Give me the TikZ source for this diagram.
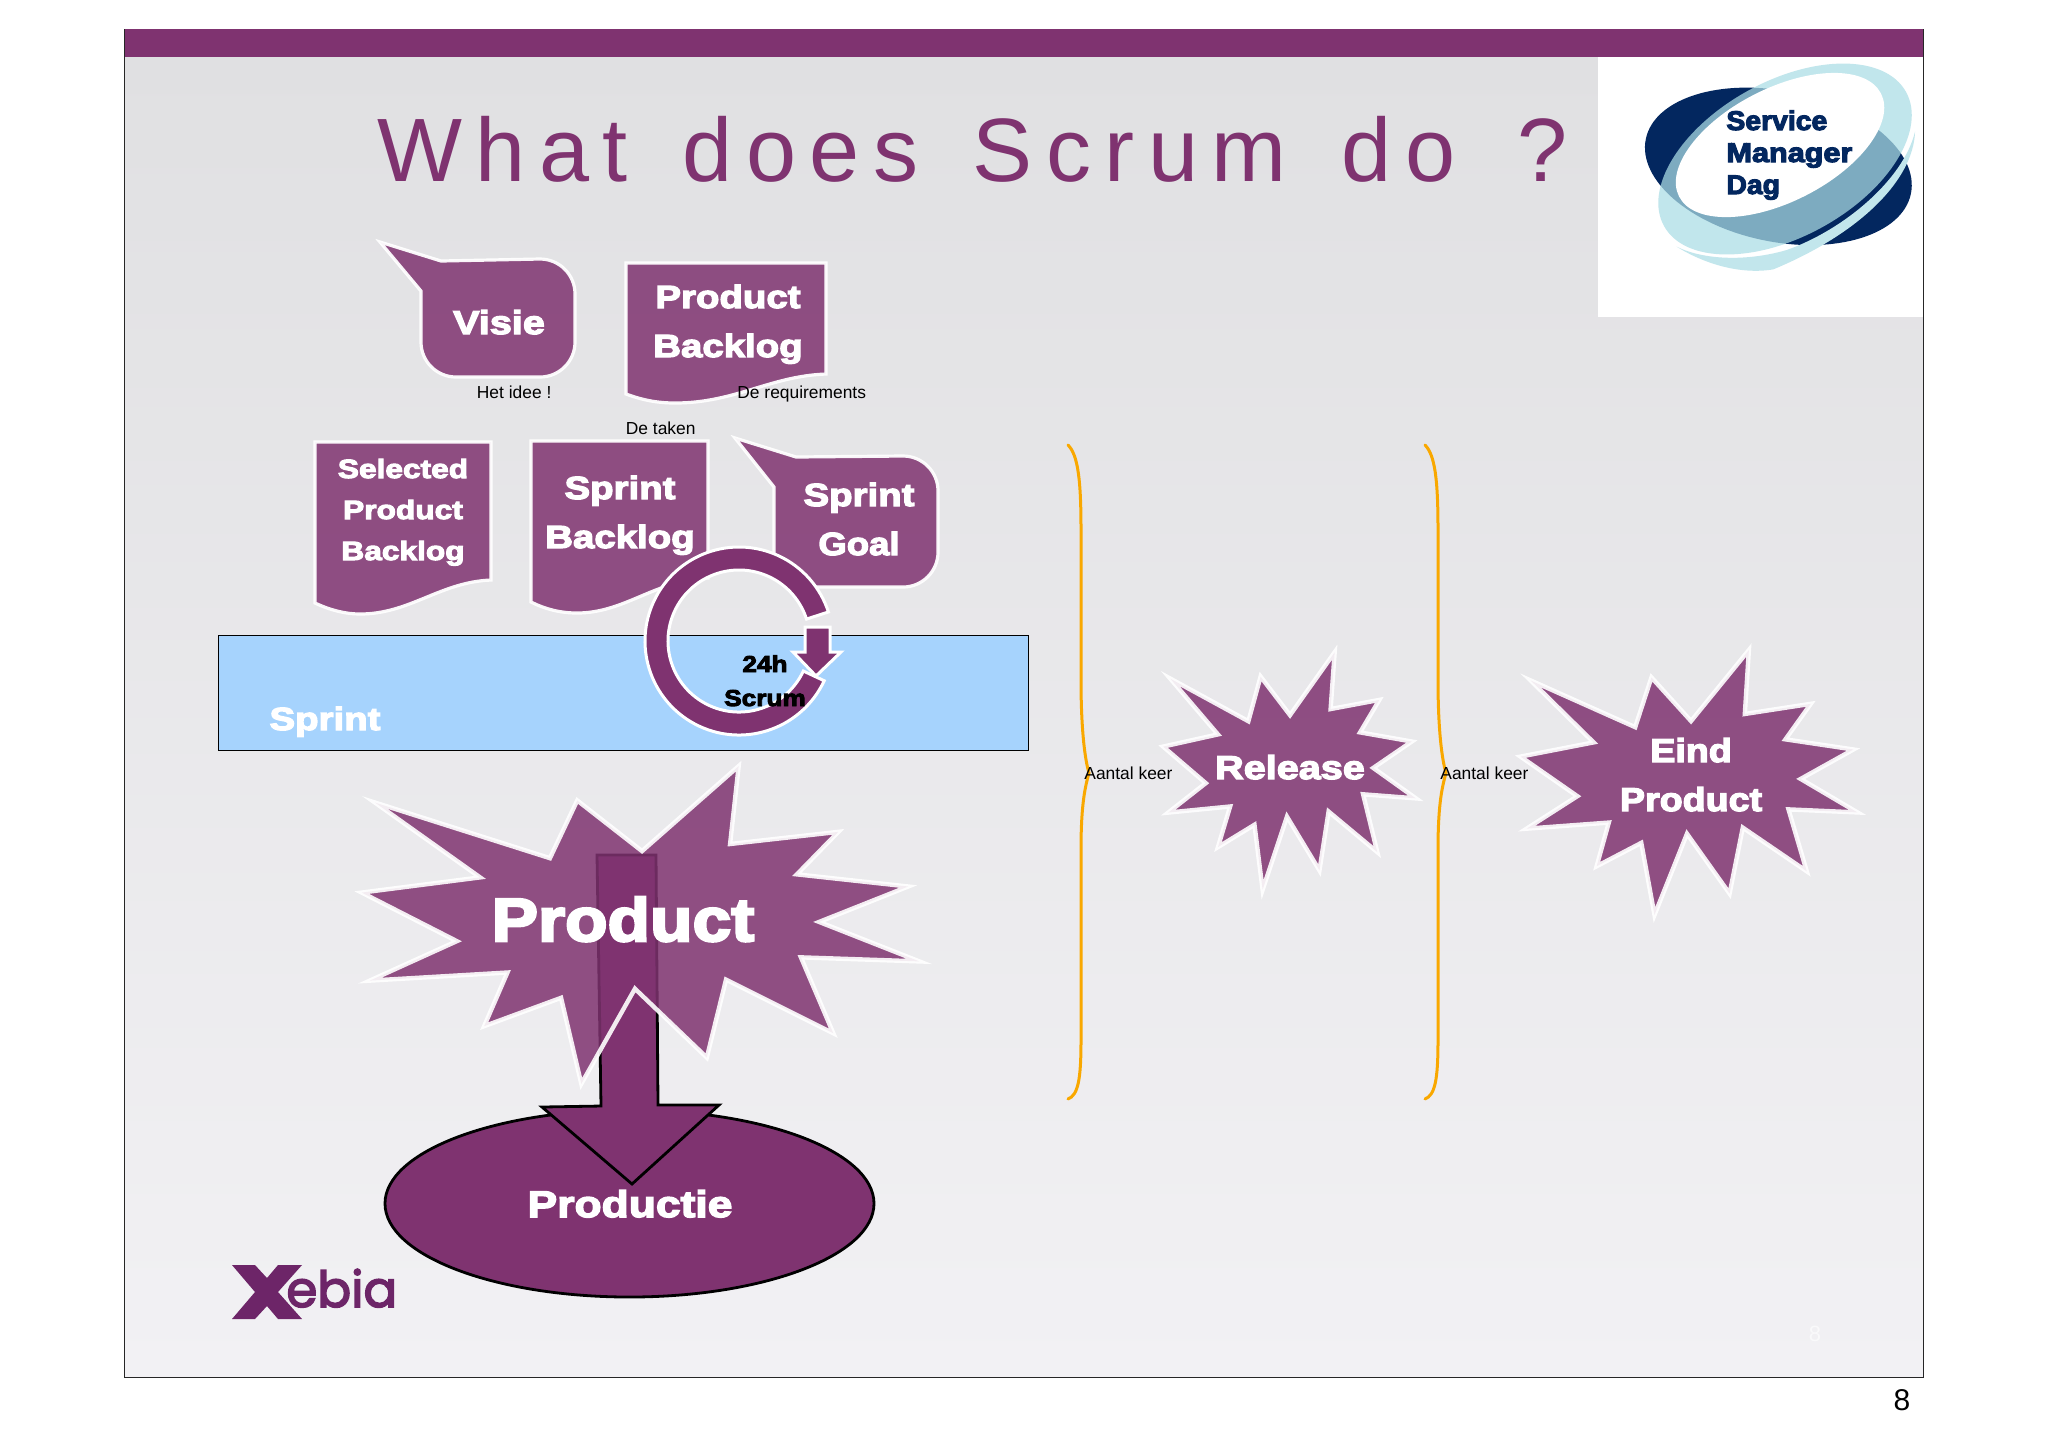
\documentclass[tikz,border=0pt]{standalone}
\usepackage{fontspec}
\usetikzlibrary{calc,shapes.geometric}
\setmainfont{Liberation Sans}
\newfontfamily\hv{Liberation Sans}[UprightFont={* Bold},FakeBold=4,FakeStretch=1.2]
\newfontfamily\hvb{Liberation Sans}[UprightFont={* Bold},FakeBold=4,FakeStretch=1.14]
\newfontfamily\hvl{Liberation Sans}[UprightFont={* Bold},FakeBold=4,FakeStretch=1.05]
\newfontfamily\tit{Liberation Sans}[LetterSpace=15,WordSpace=1.42]
\newfontfamily\xeb{Poppins}[FakeBold=3]
\definecolor{plum}{HTML}{7F3370}
\definecolor{xeb}{HTML}{6D2568}
\definecolor{navy}{HTML}{03275F}
\definecolor{ice}{HTML}{ABDDE5}
\definecolor{icel}{HTML}{C2E6EC}
\definecolor{sky}{HTML}{A6D3FD}
\definecolor{brc}{HTML}{F9A800}
\definecolor{bgtop}{HTML}{E0E0E2}
\definecolor{bgbot}{HTML}{F2F1F4}
\tikzset{
  blob/.style={fill=plum,draw=white,line width=1.6pt,line join=miter,fill opacity=.85,draw opacity=.95},
  star/.style={fill=plum,draw=white,line width=2.2pt,line join=miter,miter limit=12,fill opacity=.85,draw opacity=.9},
  solidp/.style={fill=plum,draw=black,line width=1.4pt,line join=miter},
  ringp/.style={fill=plum,draw=white,line width=1.5pt,line join=miter},
  brace/.style={draw=brc,line width=1.5pt,line cap=round},
  hvt/.style={anchor=base,inner sep=0pt,text=white,font=\hv\fontsize{#1}{#1}\selectfont},
  hvb/.style={anchor=base,inner sep=0pt,text=white,font=\hvb\fontsize{#1}{#1}\selectfont},
  lgt/.style={anchor=base west,inner sep=0pt,text=navy,font=\hvl\fontsize{13.5}{13.5}\selectfont},
  small/.style={anchor=base west,inner sep=0pt,text=black,font=\fontsize{8.7}{8.7}\selectfont},
}
\begin{document}
\begin{tikzpicture}[x=0.5pt,y=-0.5pt]
\useasboundingbox (0,0) rectangle (2048,1448);
\fill[white] (0,0) rectangle (2048,1448);
% slide
\shade[top color=bgtop,bottom color=bgbot] (124,57) rectangle (1923,1377);
\fill[plum] (124,29) rectangle (1923,57);
\fill[white] (1598,57) rectangle (1923,317);
\draw[black!85,line width=.5pt] (124,29) -- (124,1377) -- (1923,1377) -- (1923,29);
\node[anchor=base west,inner sep=0pt,text=plum,font=\tit\fontsize{45}{45}\selectfont] (title) at (377,181) {What does Scrum do\hspace{4pt} ?};
\node[anchor=base,inner sep=0pt,text=white,opacity=.6,font=\fontsize{11}{11}\selectfont] (ghost) at (1815,1341) {8};
% logo
\begin{scope}[shift={(780pt,-10pt)},x=0.16667pt,y=-0.16667pt]
 \fill[navy,shift={(655,439)},rotate=-11.7] (0,0) ellipse [x radius=406,y radius=226];
 \fill[ice,opacity=.73,shift={(675,417)},rotate=29] (0,0) ellipse [x radius=415,y radius=233];
 \fill[icel] (1065,335) .. controls (1060,480) and (900,640) .. (640,748) .. controls (540,765) and (430,730) .. (350,680) .. controls (430,720) and (560,725) .. (680,690) .. controls (850,630) and (1030,480) .. (1065,335) -- cycle;
 \fill[white,shift={(660,375)},rotate=27] (0,0) ellipse [x radius=340,y radius=170];
\end{scope}
\node[lgt] (lg1) at (1726,130) {Service};
\node[lgt,transform shape,xscale=1.08] (lg2) at (1726,162) {Manager};
\node[lgt] (lg3) at (1726,194) {Dag};
% Visie callout
\path[blob] (380,242) -- (441,261) -- (540,259) arc[start angle=-90,end angle=0,radius=35] -- (575,342) arc[start angle=0,end angle=90,radius=35] -- (456,377) arc[start angle=90,end angle=180,radius=35] -- (421,291) -- cycle;
\node[hvt=16.5] (visie) at (499,334) {Visie};
% Product Backlog
\path[blob] (626,263) -- (826,263) -- (826,374) .. controls (770,376) and (735,403) .. (675,403) .. controls (660,403) and (645,401) .. (626,394) -- cycle;
\node[hvt=16] (pb1) at (728,308) {Product};
\node[hvt=16] (pb2) at (728,357) {Backlog};
% Selected Product Backlog
\path[blob] (315,442) -- (491,442) -- (491,580) .. controls (440,582) and (410,614) .. (360,614) .. controls (345,614) and (330,610) .. (315,603) -- cycle;
\node[hvt=13.2] (sp1) at (403,478) {Selected};
\node[hvt=13.2] (sp2) at (403,519) {Product};
\node[hvt=13.2] (sp3) at (403,560) {Backlog};
% Sprint Backlog
\path[blob] (531,441) -- (708,441) -- (708,578) .. controls (655,580) and (625,613) .. (577,613) .. controls (560,613) and (545,609) .. (531,602) -- cycle;
\node[hvt=16] (sb1) at (620,499) {Sprint};
\node[hvt=16] (sb2) at (620,548) {Backlog};
% Sprint Goal callout
\path[blob] (735,438) -- (796,457) -- (903,456) arc[start angle=-90,end angle=0,radius=35] -- (938,552) arc[start angle=0,end angle=90,radius=35] -- (809,587) arc[start angle=90,end angle=180,radius=35] -- (774,487) -- cycle;
\node[hvt=16] (sg1) at (859,506) {Sprint};
\node[hvb=16] (sg2) at (859,555) {Goal};
% Sprint bar
\draw[fill=sky,draw=black,line width=.5pt] (218.5,635) rectangle (1028,750);
\node[hvt=16] (sprint) at (325,730) {Sprint};
% ring
\coordinate (rc) at (739,641);
\path[ringp] ($(rc)+(25:94)$) arc[start angle=25,end angle=342,radius=94] -- ($(rc)+(342:71)$) arc[start angle=342,end angle=25,radius=71] -- cycle;
\path[ringp] (805,627) -- (830,627) -- (830,652) -- (841,652) -- (816,676) -- (793,652) -- (805,652) -- cycle;
\node[hvb=11.5,text=black] (h24) at (765,672) {24h};
\node[hvb=11.5,text=black] (scrum) at (765,706) {Scrum};
% Productie
\node[ellipse,minimum width=244.5pt,minimum height=93.5pt,inner sep=0pt,solidp] (prod) at (629.5,1203.5) {};
\node[hvt=18.5] (prodl) at (630,1217) {Productie};
\path[solidp] (597,855) -- (656,855) -- (658,1105) -- (719,1105) -- (632,1184) -- (542,1107) -- (601,1106) -- cycle;
% Product star
\begin{scope}[shift={(640,930)},scale=1.012,shift={(-640,-930)}]
\path[star] (737.5,768) -- (729,845) -- (836,833) -- (795,875) -- (905,887) -- (817,922) -- (916,961) -- (799,957) -- (831,1032) -- (725,979) -- (706,1056) -- (635,988) -- (582,1082) -- (562,997) -- (486,1025) -- (509,972) -- (373,980) -- (459,941) -- (365,893) -- (482,878) -- (378,804) -- (551,859) -- (578,802) -- (642,852) -- cycle;
\end{scope}
\node[hvb=30.5] (product) at (623,941) {Product};
% Release star
\begin{scope}[shift={(1290,775)},scale=1.015,shift={(-1290,-775)}]
\path[star] (1334,654) -- (1330,710) -- (1378,701) -- (1359,733) -- (1410,742) -- (1372,768) -- (1414,798) -- (1362,794) -- (1376,851) -- (1328,811) -- (1319,869) -- (1287,816) -- (1263,888) -- (1255,824) -- (1219,846) -- (1231,806) -- (1170,812) -- (1207,783) -- (1165,747) -- (1219,735) -- (1172,680) -- (1249,722) -- (1261,678) -- (1290,716) -- cycle;
\end{scope}
\node[hvt=16.5] (release) at (1290,779) {Release};
% Eind star
\begin{scope}[shift={(1690,785)},scale=1.015,shift={(-1690,-785)}]
\path[star] (1748,652) -- (1744,715) -- (1809,705) -- (1784,740) -- (1851,750) -- (1799,779) -- (1855,812) -- (1787,809) -- (1805,870) -- (1742,827) -- (1729,892) -- (1687,833) -- (1655,913) -- (1642,842) -- (1598,865) -- (1610,822) -- (1529,828) -- (1579,796) -- (1523,757) -- (1595,743) -- (1533,682) -- (1636,728) -- (1652,679) -- (1691,722) -- cycle;
\end{scope}
\node[hvb=16.5] (eind1) at (1691,762) {Eind};
\node[hvb=16.5] (eind2) at (1691,811) {Product};
% braces
\draw[brace] (1068,445) .. controls (1078,455) and (1081,480) .. (1081,530) -- (1081,680) .. controls (1081,730) and (1085,760) .. (1089,773) .. controls (1084,790) and (1081,810) .. (1081,850) -- (1081,1040) .. controls (1081,1080) and (1078,1095) .. (1068,1099);
\draw[brace] (1425,445) .. controls (1435,455) and (1438,480) .. (1438,530) -- (1438,680) .. controls (1438,730) and (1442,760) .. (1446,773) .. controls (1441,790) and (1438,810) .. (1438,850) -- (1438,1040) .. controls (1438,1080) and (1435,1095) .. (1425,1099);
% small labels
\node[small] (idee) at (476.5,398) {Het idee !};
\node[small] (req) at (737,398) {De requirements};
\node[small] (tak) at (625.5,434.5) {De taken};
\node[small] (k1) at (1084,779) {Aantal keer};
\node[small] (k2) at (1440,779) {Aantal keer};
% Xebia
\fill[xeb] (232,1265) -- (255,1265) -- (267,1278) -- (278,1265) -- (302,1265) -- (278,1292) -- (302,1319) -- (278,1319) -- (267,1306) -- (255,1319) -- (232,1319) -- (255,1292) -- cycle;
\node[anchor=base west,inner sep=0pt,text=xeb,font=\xeb\fontsize{25}{25}\selectfont] (ebia) at (286,1307) {ebia};
% page number
\node[anchor=base,inner sep=0pt,font=\fontsize{15}{15}\selectfont] (pg) at (1902,1410) {8};
\end{tikzpicture}
\end{document}
